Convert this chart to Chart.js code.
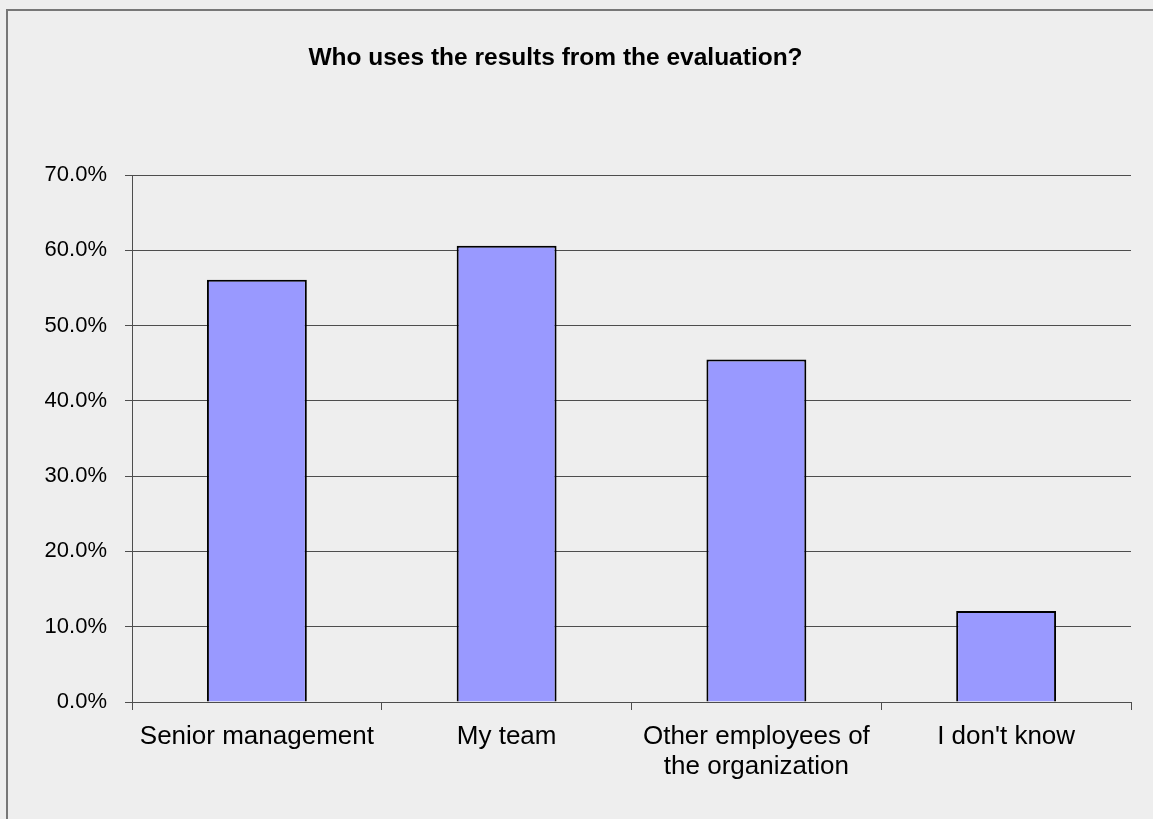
<!DOCTYPE html>
<html>
<head>
<meta charset="utf-8">
<title>Who uses the results from the evaluation?</title>
<script src="https://cdn.jsdelivr.net/npm/chart.js@4/dist/chart.umd.min.js"></script>
<style>
  html, body { margin: 0; padding: 0; background: #eeeeee; overflow: hidden; }
  .frame {
    position: absolute; left: 6px; top: 9px; width: 2000px; height: 2000px;
    border-top: 2px solid #777; border-left: 2px solid #777;
  }
  .chart { position: absolute; left: 0; top: 0; width: 1153px; height: 819px; }
</style>
</head>
<body>
<div class="frame"></div>
<div class="chart"><canvas id="usage"></canvas></div>
<script>
const categories = [
  'Senior management',
  'My team',
  ['Other employees of', 'the organization'],
  "I don't know",
];
const shares = [56.1, 60.6, 45.5, 12.1]; // percent of respondents
const yTicks = [0, 10, 20, 30, 40, 50, 60, 70];

const FONT = "'Liberation Sans', Arial, sans-serif";
const LINE = '#4d4d4d';

const ctx = document.getElementById('usage').getContext('2d');

new Chart(ctx, {
  type: 'bar',
  data: {
    labels: categories,
    datasets: [
      {
        label: 'Share',
        data: shares,
        backgroundColor: '#9999ff',
        borderColor: '#000',
        borderWidth: 2,
        barPercentage: 0.4,
        categoryPercentage: 1,
      },
    ],
  },
  options: {
    responsive: true,
    maintainAspectRatio: false,
    animation: false,
    layout: {
      // negative left pad keeps the title centred on the full frame
      padding: { left: -20, right: 22, top: 0, bottom: 0 },
    },
    plugins: {
      legend: { display: false },
      tooltip: { enabled: false },
      title: {
        display: true,
        text: 'Who uses the results from the evaluation?',
        color: '#000',
        font: { family: FONT, size: 24.5, weight: 'bold', lineHeight: 1.2 },
        padding: { top: 44, bottom: 101.6 },
      },
    },
    scales: {
      x: {
        grid: {
          offset: true,
          drawOnChartArea: false,
          drawTicks: true,
          tickLength: 8,
          color: LINE,
        },
        border: { color: LINE, width: 1 },
        ticks: {
          color: '#000',
          padding: 12,
          maxRotation: 0,
          autoSkip: false,
          font: { family: FONT, size: 26, lineHeight: 1.154 },
        },
        afterFit: (scale) => {
          scale.height = 117;
        },
      },
      y: {
        min: yTicks[0],
        max: yTicks[yTicks.length - 1],
        afterBuildTicks: (scale) => {
          scale.ticks = yTicks.map((v) => ({ value: v }));
        },
        grid: {
          color: LINE,
          lineWidth: 1,
          tickLength: 7,
        },
        border: { color: LINE, width: 1 },
        ticks: {
          color: '#000',
          padding: 18,
          font: { family: FONT, size: 22 },
          callback: (v) => `${Number(v).toFixed(1)}%`,
        },
        afterFit: (scale) => {
          scale.width = 152;
        },
      },
    },
  },
});
</script>
</body>
</html>
